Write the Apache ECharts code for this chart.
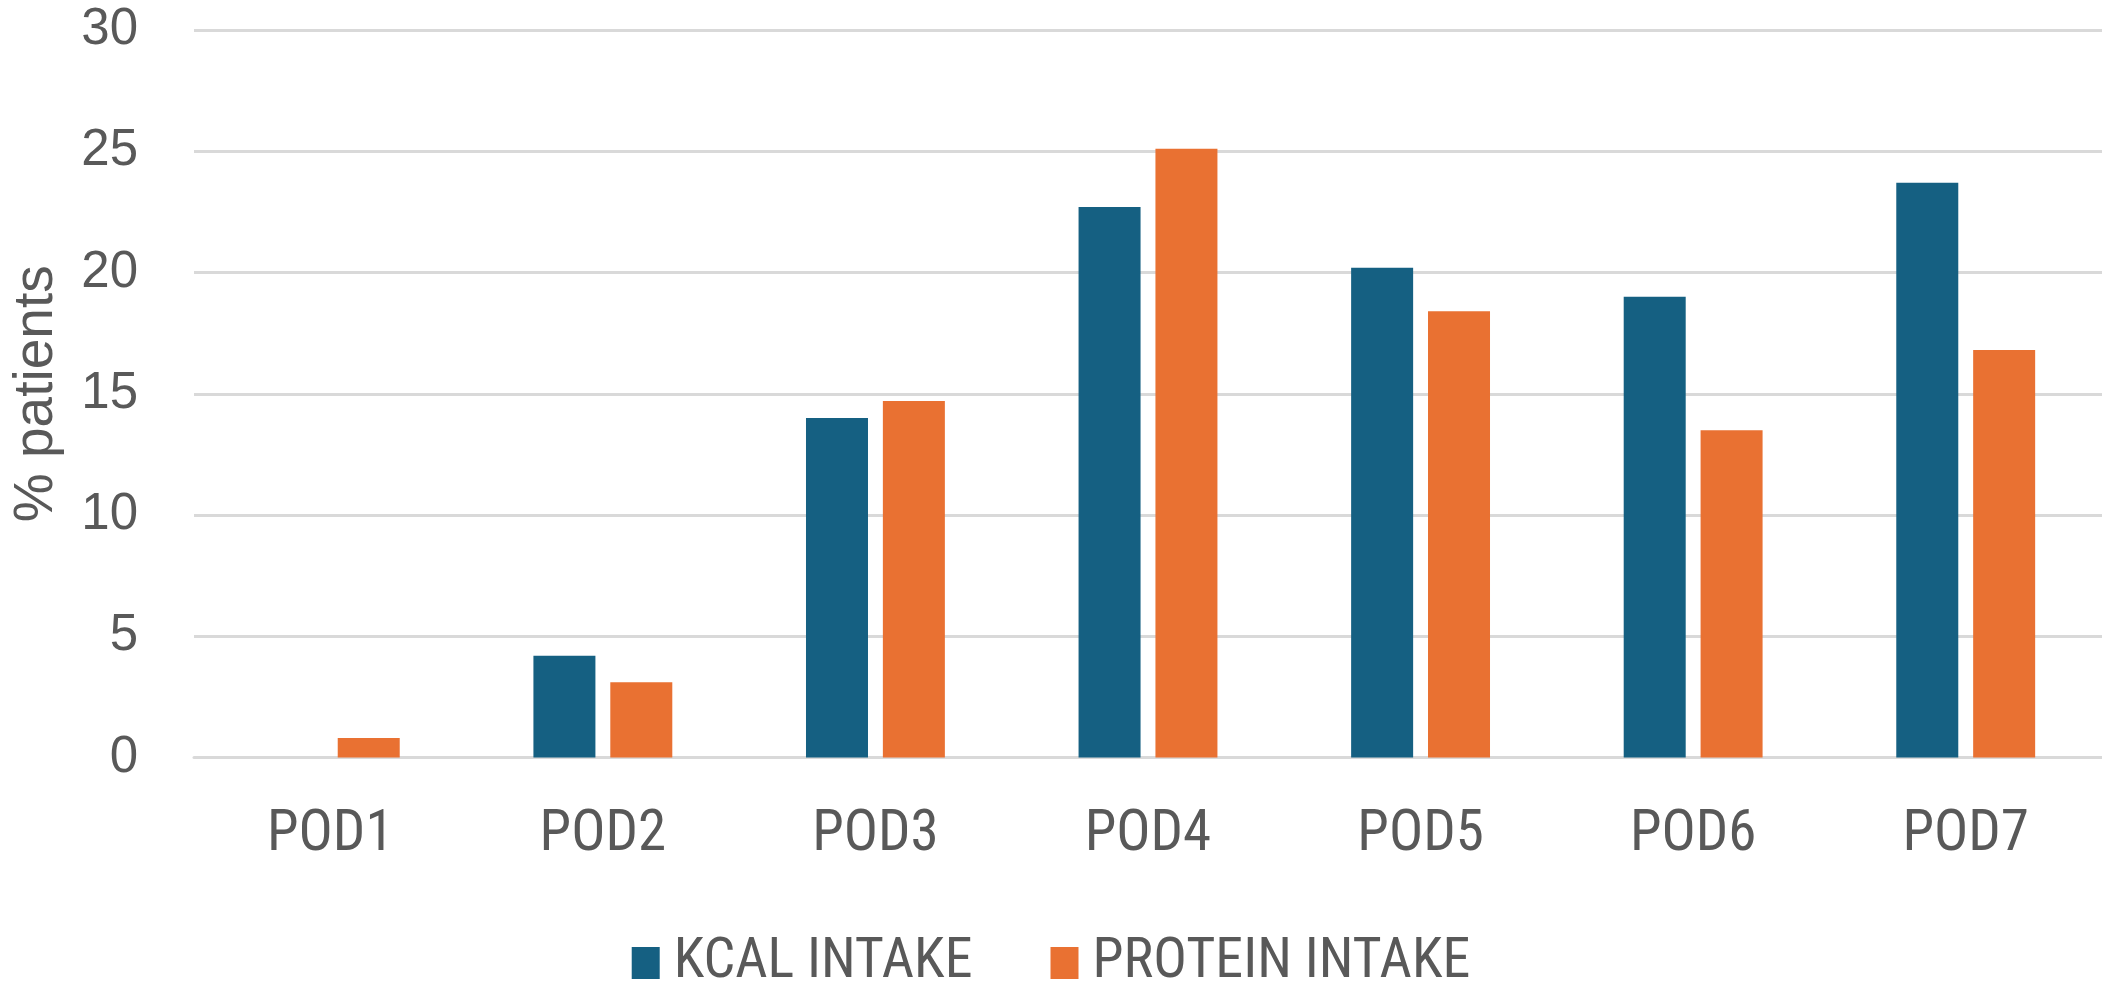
<!DOCTYPE html>
<html>
<head>
<meta charset="utf-8">
<script src="https://cdn.jsdelivr.net/npm/echarts@6/dist/echarts.min.js"></script>
<style>
html,body{margin:0;padding:0;background:#fff;}
#chart{width:2102px;height:984px;}
</style>
</head>
<body>
<div id="chart"></div>
<script>
const categories = ['POD1', 'POD2', 'POD3', 'POD4', 'POD5', 'POD6', 'POD7'];
const kcalIntake = [0, 4.2, 14.0, 22.7, 20.2, 19.0, 23.7];
const proteinIntake = [0.8, 3.1, 14.7, 25.1, 18.4, 13.5, 16.8];
const seriesNames = ['KCAL INTAKE', 'PROTEIN INTAKE'];
const yAxisTitle = '% patients';

const narrow = '"Liberation Sans Narrow", "Arial Narrow", "Roboto Condensed", Roboto, sans-serif';
const regular = '"Liberation Sans", Arial, sans-serif';

const chart = echarts.init(document.getElementById('chart'), null, {renderer: 'canvas'});
chart.setOption({
  animation: false,
  backgroundColor: '#ffffff',
  grid: {left: 194, right: 0, top: 30, bottom: 226.5, containLabel: false, outerBoundsMode: 'none'},
  legend: {
    data: seriesNames,
    left: 'center',
    top: 930,
    itemWidth: 28,
    itemHeight: 32,
    itemGap: 78,
    icon: 'rect',
    textStyle: {fontFamily: narrow, fontSize: 56, color: '#595959', padding: [0, 0, 0, 9]}
  },
  xAxis: {
    type: 'category',
    data: categories,
    axisLine: {show: true, lineStyle: {color: '#d9d9d9', width: 3}},
    axisTick: {show: false},
    axisLabel: {fontFamily: narrow, fontSize: 57, color: '#595959', margin: 50}
  },
  yAxis: {
    type: 'value',
    min: 0,
    max: 30,
    interval: 5,
    name: yAxisTitle,
    nameLocation: 'middle',
    nameGap: 130,
    nameTextStyle: {fontFamily: regular, fontSize: 55, color: '#595959'},
    axisLine: {show: false},
    axisTick: {show: false},
    axisLabel: {fontFamily: regular, fontSize: 51, color: '#595959', margin: 56},
    splitLine: {show: true, lineStyle: {color: '#d9d9d9', width: 3}}
  },
  series: [
    {
      name: seriesNames[0],
      type: 'bar',
      data: kcalIntake,
      barWidth: 62,
      barGap: '24%',
      itemStyle: {color: '#156082'}
    },
    {
      name: seriesNames[1],
      type: 'bar',
      data: proteinIntake,
      barWidth: 62,
      barGap: '24%',
      itemStyle: {color: '#E97132'}
    }
  ]
});
</script>
</body>
</html>
